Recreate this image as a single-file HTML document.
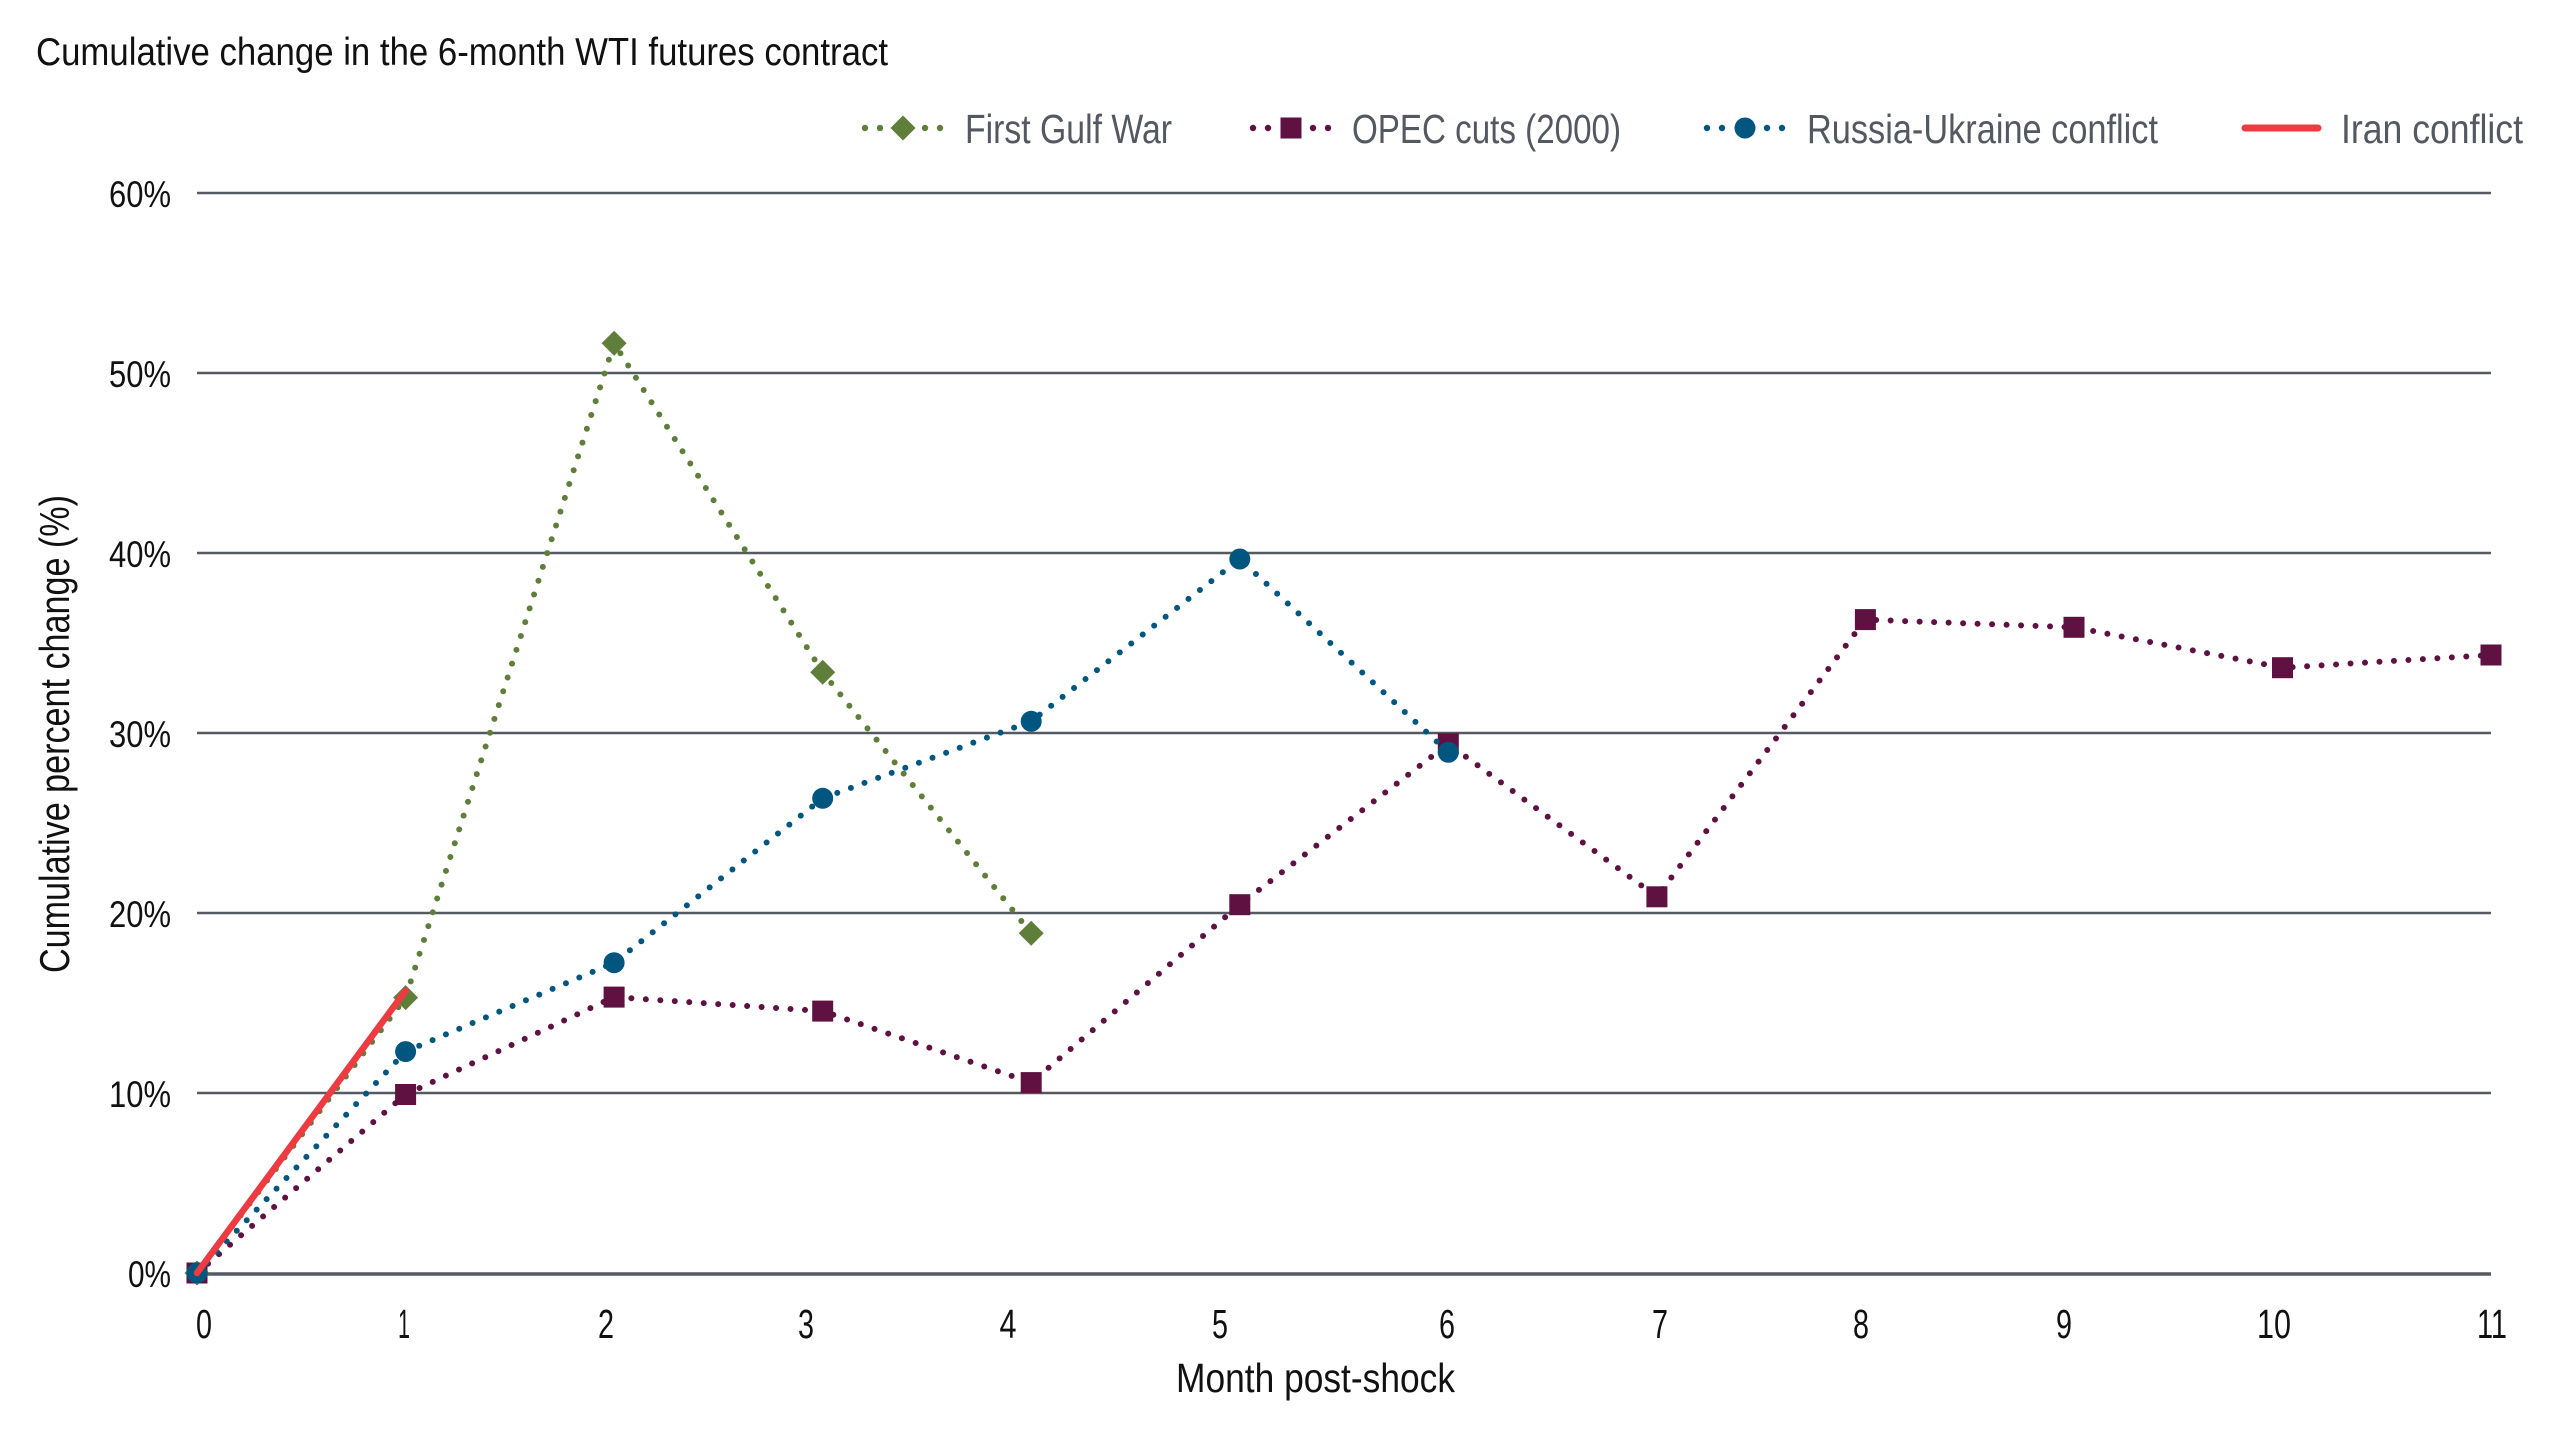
<!DOCTYPE html>
<html>
<head>
<meta charset="utf-8">
<style>
  html, body { margin: 0; padding: 0; background: #ffffff; }
  svg { display: block; }
  .cond { font-family: "Liberation Sans Narrow", "Liberation Sans", sans-serif; }
</style>
</head>
<body>
<svg width="2560" height="1440" viewBox="0 0 2560 1440" xmlns="http://www.w3.org/2000/svg">
  <rect x="0" y="0" width="2560" height="1440" fill="#ffffff"/>

  <!-- Title -->
  <text class="cond" x="36" y="65" font-size="39" fill="#111111" textLength="852" lengthAdjust="spacingAndGlyphs">Cumulative change in the 6-month WTI futures contract</text>

  <!-- Legend -->
  <g>
    <!-- First Gulf War -->
    <g fill="#5f7e3a">
      <circle cx="865" cy="128" r="3.2"/>
      <circle cx="880" cy="128" r="3.2"/>
      <circle cx="925" cy="128" r="3.2"/>
      <circle cx="940" cy="128" r="3.2"/>
      <polygon points="903,115.5 915.5,128 903,140.5 890.5,128"/>
    </g>
    <text class="cond" x="965" y="143" font-size="41" fill="#545861" textLength="207" lengthAdjust="spacingAndGlyphs">First Gulf War</text>

    <!-- OPEC -->
    <g fill="#5f1142">
      <circle cx="1253" cy="128" r="3.2"/>
      <circle cx="1268" cy="128" r="3.2"/>
      <circle cx="1313" cy="128" r="3.2"/>
      <circle cx="1328" cy="128" r="3.2"/>
      <rect x="1280.5" y="117.5" width="21" height="21"/>
    </g>
    <text class="cond" x="1352" y="143" font-size="41" fill="#545861" textLength="269" lengthAdjust="spacingAndGlyphs">OPEC cuts (2000)</text>

    <!-- Russia-Ukraine -->
    <g fill="#00567f">
      <circle cx="1707" cy="128" r="3.2"/>
      <circle cx="1722" cy="128" r="3.2"/>
      <circle cx="1767" cy="128" r="3.2"/>
      <circle cx="1782" cy="128" r="3.2"/>
      <circle cx="1745" cy="128" r="10.5"/>
    </g>
    <text class="cond" x="1807" y="143" font-size="41" fill="#545861" textLength="351" lengthAdjust="spacingAndGlyphs">Russia-Ukraine conflict</text>

    <!-- Iran -->
    <line x1="2245" y1="128" x2="2318" y2="128" stroke="#ee3b41" stroke-width="7" stroke-linecap="round"/>
    <text class="cond" x="2341" y="143" font-size="41" fill="#545861" textLength="182" lengthAdjust="spacingAndGlyphs">Iran conflict</text>
  </g>

  <!-- Gridlines: y(v) = 1273 - 18v -->
  <g stroke="#555962" stroke-width="2.5">
    <line x1="197" y1="193" x2="2491" y2="193"/>
    <line x1="197" y1="373" x2="2491" y2="373"/>
    <line x1="197" y1="553" x2="2491" y2="553"/>
    <line x1="197" y1="733" x2="2491" y2="733"/>
    <line x1="197" y1="913" x2="2491" y2="913"/>
    <line x1="197" y1="1093" x2="2491" y2="1093"/>
  </g>
  <line x1="197" y1="1274" x2="2491" y2="1274" stroke="#555962" stroke-width="3.5"/>

  <!-- Y tick labels -->
  <g class="cond" font-size="37" fill="#111111" text-anchor="end">
    <text x="171" y="207" textLength="62" lengthAdjust="spacingAndGlyphs">60%</text>
    <text x="171" y="387" textLength="62" lengthAdjust="spacingAndGlyphs">50%</text>
    <text x="171" y="567" textLength="62" lengthAdjust="spacingAndGlyphs">40%</text>
    <text x="171" y="747" textLength="62" lengthAdjust="spacingAndGlyphs">30%</text>
    <text x="171" y="927" textLength="62" lengthAdjust="spacingAndGlyphs">20%</text>
    <text x="171" y="1107" textLength="62" lengthAdjust="spacingAndGlyphs">10%</text>
    <text x="171" y="1287" textLength="43" lengthAdjust="spacingAndGlyphs">0%</text>
  </g>

  <!-- X tick labels -->
  <g class="cond" font-size="41" fill="#111111" text-anchor="middle">
    <text x="204" y="1338" textLength="16" lengthAdjust="spacingAndGlyphs">0</text>
    <text x="404" y="1338" textLength="12" lengthAdjust="spacingAndGlyphs">1</text>
    <text x="606" y="1338" textLength="16" lengthAdjust="spacingAndGlyphs">2</text>
    <text x="806" y="1338" textLength="16" lengthAdjust="spacingAndGlyphs">3</text>
    <text x="1008" y="1338" textLength="17" lengthAdjust="spacingAndGlyphs">4</text>
    <text x="1220" y="1338" textLength="16" lengthAdjust="spacingAndGlyphs">5</text>
    <text x="1447" y="1338" textLength="16" lengthAdjust="spacingAndGlyphs">6</text>
    <text x="1660" y="1338" textLength="16" lengthAdjust="spacingAndGlyphs">7</text>
    <text x="1861" y="1338" textLength="16" lengthAdjust="spacingAndGlyphs">8</text>
    <text x="2064" y="1338" textLength="16" lengthAdjust="spacingAndGlyphs">9</text>
    <text x="2274" y="1338" textLength="34" lengthAdjust="spacingAndGlyphs">10</text>
    <text x="2492" y="1338" textLength="30" lengthAdjust="spacingAndGlyphs">11</text>
  </g>

  <!-- Axis titles -->
  <text class="cond" x="1176" y="1392" font-size="41" fill="#111111" textLength="279" lengthAdjust="spacingAndGlyphs">Month post-shock</text>
  <text transform="translate(69,734) rotate(-90)" x="0" y="0" text-anchor="middle" font-family="Liberation Sans, sans-serif" font-size="42" fill="#111111" textLength="478" lengthAdjust="spacingAndGlyphs">Cumulative percent change (%)</text>

  <!-- Series: x(m) = 197 + 208.55 m ; y(v) = 1273 - 18 v -->
  <!-- First Gulf War -->
  <polyline fill="none" stroke="#5f7e3a" stroke-width="6" stroke-linecap="round" stroke-dasharray="0 14.5"
    points="197,1273 405.6,997.6 614.1,343.3 822.7,672.3 1031.2,933.3"/>
  <g fill="#5f7e3a">
    <polygon points="197,1260.5 209.5,1273 197,1285.5 184.5,1273"/>
    <polygon points="405.6,985.1 418.1,997.6 405.6,1010.1 393.1,997.6"/>
    <polygon points="614.1,330.8 626.6,343.3 614.1,355.8 601.6,343.3"/>
    <polygon points="822.7,659.8 835.2,672.3 822.7,684.8 810.2,672.3"/>
    <polygon points="1031.2,920.8 1043.7,933.3 1031.2,945.8 1018.7,933.3"/>
  </g>

  <!-- OPEC cuts (2000) -->
  <polyline fill="none" stroke="#5f1142" stroke-width="6" stroke-linecap="round" stroke-dasharray="0 14.5"
    points="197,1273 405.6,1094.5 614.1,997.1 822.7,1011.1 1031.2,1082.6 1239.8,904.7 1448.3,743.8 1656.9,896.8 1865.4,619.6 2074,627.3 2282.5,667.7 2491,655"/>
  <g fill="#5f1142">
    <rect x="186.5" y="1262.5" width="21" height="21"/>
    <rect x="395.1" y="1084" width="21" height="21"/>
    <rect x="603.6" y="986.6" width="21" height="21"/>
    <rect x="812.2" y="1000.6" width="21" height="21"/>
    <rect x="1020.7" y="1072.1" width="21" height="21"/>
    <rect x="1229.3" y="894.2" width="21" height="21"/>
    <rect x="1437.8" y="733.3" width="21" height="21"/>
    <rect x="1646.4" y="886.3" width="21" height="21"/>
    <rect x="1854.9" y="609.1" width="21" height="21"/>
    <rect x="2063.5" y="616.8" width="21" height="21"/>
    <rect x="2272" y="657.2" width="21" height="21"/>
    <rect x="2480.5" y="644.5" width="21" height="21"/>
  </g>

  <!-- Russia-Ukraine conflict -->
  <polyline fill="none" stroke="#00567f" stroke-width="6" stroke-linecap="round" stroke-dasharray="0 14.5"
    points="197,1273 405.6,1051.6 614.1,962.7 822.7,798.3 1031.2,721.3 1239.8,559 1448.3,752.3"/>
  <g fill="#00567f">
    <circle cx="197" cy="1273" r="10.5"/>
    <circle cx="405.6" cy="1051.6" r="10.5"/>
    <circle cx="614.1" cy="962.7" r="10.5"/>
    <circle cx="822.7" cy="798.3" r="10.5"/>
    <circle cx="1031.2" cy="721.3" r="10.5"/>
    <circle cx="1239.8" cy="559" r="10.5"/>
    <circle cx="1448.3" cy="752.3" r="10.5"/>
  </g>

  <!-- Iran conflict -->
  <line x1="197" y1="1273" x2="405.5" y2="990.8" stroke="#ee3b41" stroke-width="6.5" stroke-linecap="round"/>
</svg>
</body>
</html>
